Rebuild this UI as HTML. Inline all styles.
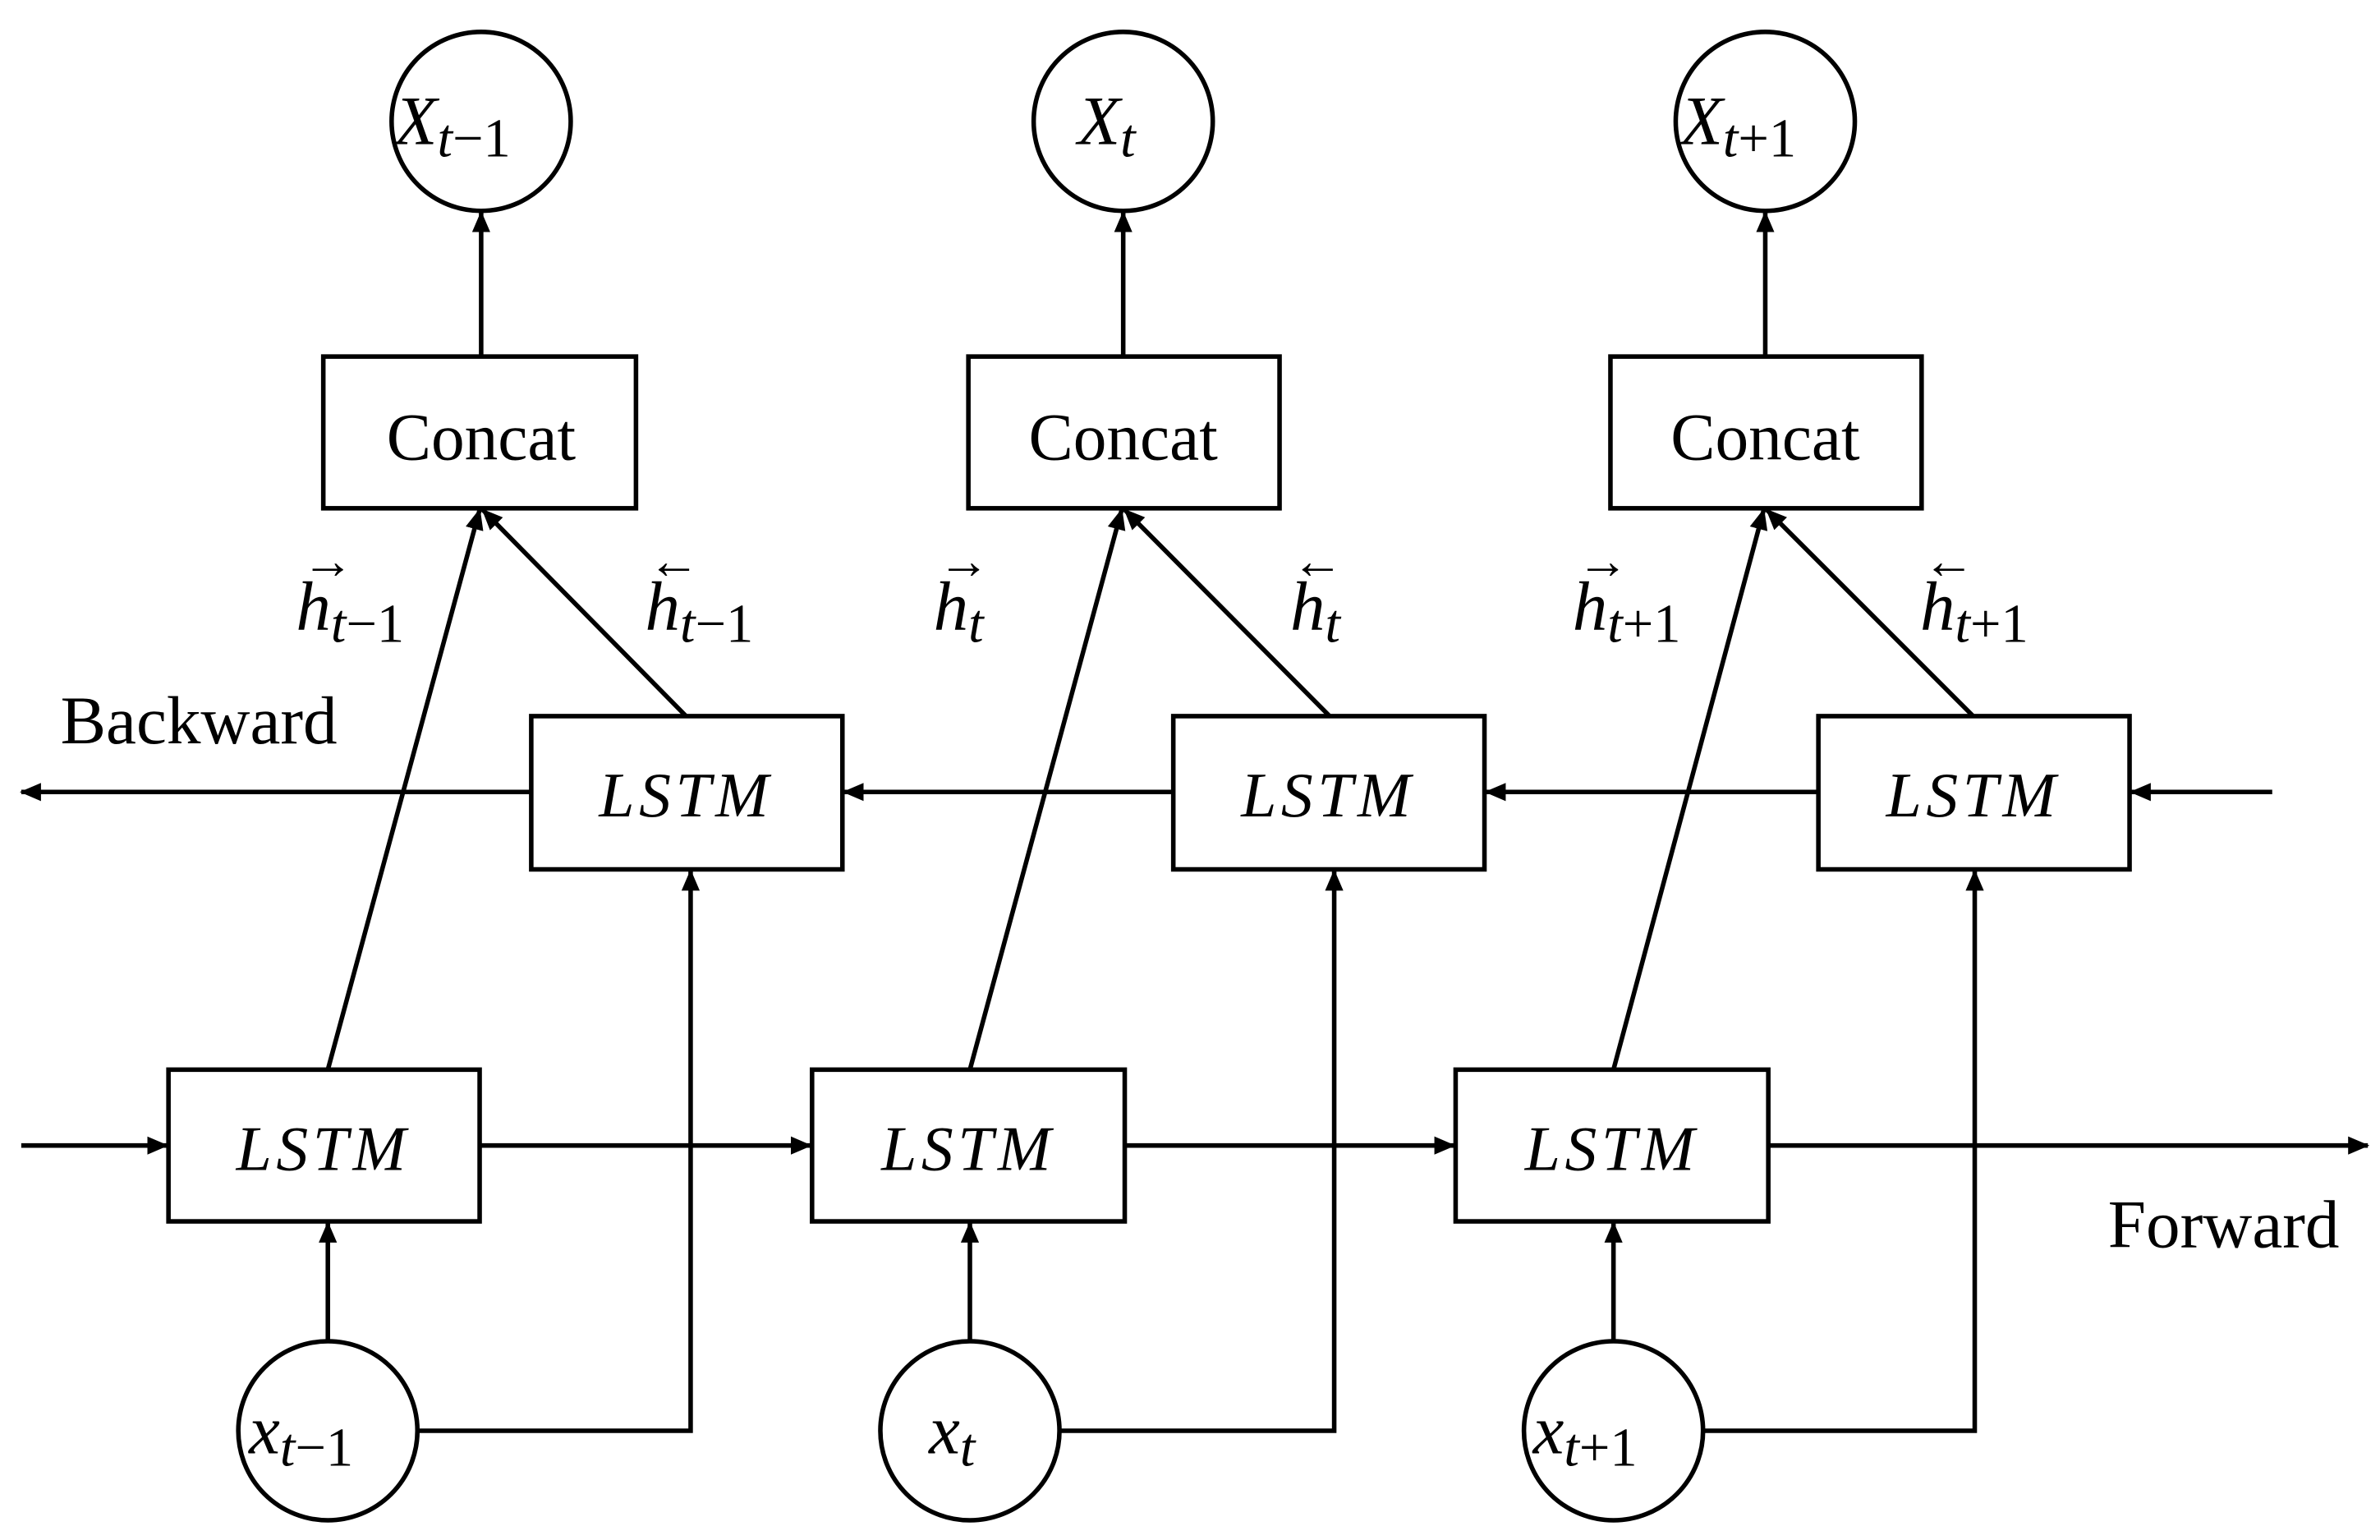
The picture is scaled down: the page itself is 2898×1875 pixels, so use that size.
<!DOCTYPE html>
<html><head><meta charset="utf-8"><style>html,body{margin:0;padding:0;background:#fff}svg{display:block}</style></head>
<body>
<svg width="2898" height="1875" viewBox="0 0 1568 1015" preserveAspectRatio="none" xmlns="http://www.w3.org/2000/svg">
<defs><marker id="b" markerWidth="14" markerHeight="14" refX="13" refY="7" orient="auto" markerUnits="userSpaceOnUse" viewBox="0 0 14 14"><path d="M0,1 L14,7 L0,13 z" fill="#000"/></marker></defs>
<g stroke="#000" stroke-width="3" fill="none">
<circle cx="317" cy="80" r="59"/><circle cx="740" cy="80" r="59"/><circle cx="1163" cy="80" r="59"/>
<rect x="213" y="235" width="206" height="100"/><rect x="638" y="235" width="205" height="100"/><rect x="1061" y="235" width="205" height="100"/>
<rect x="350" y="472" width="205" height="101"/><rect x="773" y="472" width="205" height="101"/><rect x="1198" y="472" width="205" height="101"/>
<rect x="111" y="705" width="205" height="100"/><rect x="535" y="705" width="206" height="100"/><rect x="959" y="705" width="206" height="100"/>
<circle cx="216" cy="943" r="59"/><circle cx="639" cy="943" r="59"/><circle cx="1063" cy="943" r="59"/>
</g>
<g stroke="#000" stroke-width="3" fill="none" marker-end="url(#b)">
<line x1="317" y1="235" x2="317" y2="140"/><line x1="740" y1="235" x2="740" y2="140"/><line x1="1163" y1="235" x2="1163" y2="140"/>
<line x1="350" y1="522" x2="14" y2="522"/><line x1="773" y1="522" x2="556" y2="522"/><line x1="1198" y1="522" x2="979" y2="522"/><line x1="1497" y1="522" x2="1404" y2="522"/>
<line x1="14" y1="755" x2="110" y2="755"/><line x1="316" y1="755" x2="534" y2="755"/><line x1="741" y1="755" x2="958" y2="755"/><line x1="1165" y1="755" x2="1560" y2="755"/>
<line x1="216" y1="884" x2="216" y2="806"/><line x1="639" y1="884" x2="639" y2="806"/><line x1="1063" y1="884" x2="1063" y2="806"/>
<polyline points="275,943 455,943 455,574"/><polyline points="698,943 879,943 879,574"/><polyline points="1122,943 1301,943 1301,574"/>
<line x1="216" y1="705" x2="316" y2="336"/><line x1="639" y1="705" x2="739" y2="336"/><line x1="1063" y1="705" x2="1162" y2="336"/>
<line x1="452" y1="472" x2="318" y2="336"/><line x1="876" y1="472" x2="741" y2="336"/><line x1="1300" y1="472" x2="1164" y2="336"/>
</g>
<g font-family="Liberation Serif, serif" font-size="44" text-anchor="middle" fill="#000">
<text x="317" y="303">Concat</text><text x="740" y="303">Concat</text><text x="1163" y="303">Concat</text>
<g font-style="italic" font-size="42" letter-spacing="3"><text x="452" y="538">LSTM</text><text x="875" y="538">LSTM</text><text x="1300" y="538">LSTM</text>
<text x="213" y="771">LSTM</text><text x="638" y="771">LSTM</text><text x="1062" y="771">LSTM</text></g>
<text x="131" y="490" font-size="45">Backward</text><text x="1465" y="822" font-size="45">Forward</text>
<g font-style="italic" font-size="46" text-anchor="start">
<text x="260" y="95">X<tspan font-size="36" dy="8">t<tspan font-style="normal">−1</tspan></tspan></text>
<text x="710" y="95">X<tspan font-size="36" dy="8">t</tspan></text>
<text x="1107" y="95">X<tspan font-size="36" dy="8">t<tspan font-style="normal">+1</tspan></tspan></text>
<text x="164" y="958">x<tspan font-size="36" dy="8">t<tspan font-style="normal">−1</tspan></tspan></text>
<text x="612" y="958">x<tspan font-size="36" dy="8">t</tspan></text>
<text x="1010" y="958">x<tspan font-size="36" dy="8">t<tspan font-style="normal">+1</tspan></tspan></text>
<text x="195" y="415">h<tspan font-size="36" dy="8">t<tspan font-style="normal">−1</tspan></tspan></text>
<text x="425" y="415">h<tspan font-size="36" dy="8">t<tspan font-style="normal">−1</tspan></tspan></text>
<text x="615" y="415">h<tspan font-size="36" dy="8">t</tspan></text>
<text x="850" y="415">h<tspan font-size="36" dy="8">t</tspan></text>
<text x="1036" y="415">h<tspan font-size="36" dy="8">t<tspan font-style="normal">+1</tspan></tspan></text>
<text x="1265" y="415">h<tspan font-size="36" dy="8">t<tspan font-style="normal">+1</tspan></tspan></text>
</g>
<g font-size="34" text-anchor="start">
<text x="199" y="381">→</text><text x="427" y="381">←</text><text x="618" y="381">→</text><text x="851" y="381">←</text><text x="1039" y="381">→</text><text x="1267" y="381">←</text>
</g>
</g>
</svg>
</body></html>
